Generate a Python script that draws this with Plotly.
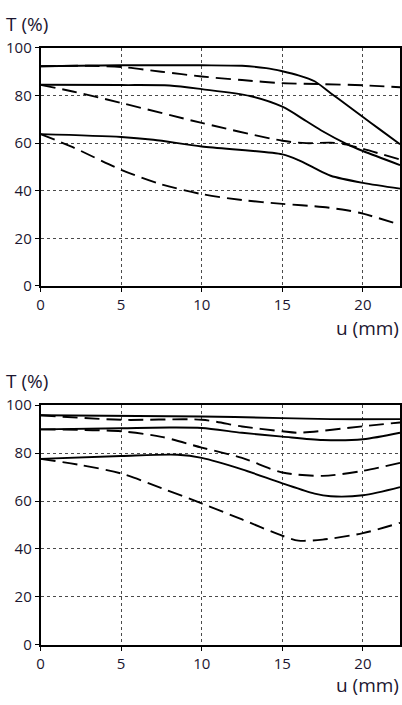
import plotly.graph_objects as go

# ---- data (top panel) ----
top_s1_x = [0, 5, 10, 12.5, 14, 15, 16, 17, 18, 19, 20, 21, 22.3]
top_s1_y = [92.3, 92.7, 92.7, 92.5, 91.5, 90.2, 88.5, 86, 81, 76, 71, 66, 59.5]
top_d1_x = [0, 3, 5, 7.5, 10, 12.5, 15, 17.5, 20, 22.3]
top_d1_y = [92.3, 92.5, 92, 90, 88, 86.5, 85.2, 84.8, 84.3, 83.5]
top_s2_x = [0, 5, 8, 10, 13, 15, 16.5, 17.5, 19, 20, 22.3]
top_s2_y = [84.5, 84.4, 84.2, 82.7, 79.8, 75.3, 69.2, 65, 59.6, 56.7, 50.8]
top_d2_x = [0, 2, 5, 10, 15, 16.5, 18, 19, 20, 22.3]
top_d2_y = [84.5, 81.7, 76.9, 68.5, 61, 60, 60.2, 59.4, 57.6, 53.1]
top_s3_x = [0, 5, 7, 10, 15, 16, 17, 18, 20, 22.3]
top_s3_y = [63.8, 62.6, 61.4, 58.6, 55.3, 52.9, 49.5, 46.3, 43.3, 40.9]
top_d3_x = [0, 2, 5, 7.5, 10, 12.5, 15, 17.5, 19, 20, 22.3]
top_d3_y = [63.8, 58.3, 48.8, 42.7, 38.6, 36.1, 34.5, 33.2, 31.8, 30.4, 25.7]

# ---- data (bottom panel) ----
bot_s1_x = [0, 10, 15, 18, 22.3]
bot_s1_y = [95.8, 95.3, 94.6, 94.2, 94.2]
bot_d1_x = [0, 5, 10, 12.5, 15, 16, 20, 22.3]
bot_d1_y = [95.8, 93.9, 93.9, 91.1, 89.1, 88.5, 91.2, 92.8]
bot_s2_x = [0, 5, 8, 10, 12.5, 15, 17.5, 20, 22.3]
bot_s2_y = [89.9, 90.4, 90.7, 90.5, 88.5, 86.9, 85.5, 85.8, 88.5]
bot_d2_x = [0, 5, 7.5, 10, 12.5, 15, 17.5, 20, 22.3]
bot_d2_y = [89.9, 89.1, 86.8, 82.3, 78, 71.9, 70.5, 72.6, 75.9]
bot_s3_x = [0, 5, 8.5, 10, 12.5, 15, 17, 18, 20, 22.3]
bot_s3_y = [77.6, 78.8, 79.3, 78, 73.2, 67.4, 63.1, 62, 62.4, 65.8]
bot_d3_x = [0, 2.5, 5, 7.5, 10, 12.5, 15, 16, 17.5, 20, 22.3]
bot_d3_y = [77.6, 75, 71.5, 65.4, 59, 52.3, 45.5, 43.5, 43.9, 46.6, 50.9]

x_ticks = [0, 5, 10, 15, 20]
y_ticks = [0, 20, 40, 60, 80, 100]

W, H = 402, 705
FONT = "Open Sans"
TXT = "#1c1630"

fig = go.Figure()

def add(x, y, dashed, ax):
    fig.add_trace(go.Scatter(
        x=x, y=y, mode="lines", xaxis="x" if ax == 1 else "x2",
        yaxis="y" if ax == 1 else "y2",
        line=dict(color="black", width=1.9, shape="spline", smoothing=0.8,
                  dash="15px,7px" if dashed else "solid"),
        showlegend=False, hoverinfo="skip"))

for xs, ys, d in [(top_s1_x, top_s1_y, False), (top_d1_x, top_d1_y, True),
                  (top_s2_x, top_s2_y, False), (top_d2_x, top_d2_y, True),
                  (top_s3_x, top_s3_y, False), (top_d3_x, top_d3_y, True)]:
    add(xs, ys, d, 1)
for xs, ys, d in [(bot_s1_x, bot_s1_y, False), (bot_d1_x, bot_d1_y, True),
                  (bot_s2_x, bot_s2_y, False), (bot_d2_x, bot_d2_y, True),
                  (bot_s3_x, bot_s3_y, False), (bot_d3_x, bot_d3_y, True)]:
    add(xs, ys, d, 2)

xdom = [37 / W, 401 / W]
y1dom = [1 - 283 / H, 1 - 38 / H]
y2dom = [1 - 652.3 / H, 1 - 405.7 / H]

xcommon = dict(range=[0, 22.3], tickvals=x_ticks, showgrid=True,
               gridcolor="#4a4a4a", griddash="3px,3px", gridwidth=1,
               showline=True, linecolor="black", linewidth=1.6, mirror=True,
               ticks="outside", ticklen=4, tickcolor="black", zeroline=False,
               tickfont=dict(family=FONT, size=15, color=TXT), domain=xdom)
ycommon = dict(range=[0, 100], tickvals=y_ticks, showgrid=True,
               gridcolor="#4a4a4a", griddash="3px,3px", gridwidth=1,
               showline=True, linecolor="black", linewidth=1.6, mirror=True,
               ticks="outside", ticklen=4, tickcolor="black", zeroline=False,
               tickfont=dict(family=FONT, size=15, color=TXT))

fig.update_layout(
    width=W, height=H, margin=dict(l=0, r=0, t=0, b=0),
    paper_bgcolor="white", plot_bgcolor="white",
    xaxis=dict(**xcommon, anchor="y"),
    yaxis=dict(**ycommon, domain=y1dom, anchor="x"),
    xaxis2=dict(**xcommon, anchor="y2"),
    yaxis2=dict(**ycommon, domain=y2dom, anchor="x2"),
    annotations=[
        dict(text="T (%)", x=0, y=1 - 13 / H, xref="paper", yref="paper",
             xanchor="left", yanchor="middle", showarrow=False,
             font=dict(family=FONT, size=19, color=TXT)),
        dict(text="u (mm)", x=1, y=1 - 326 / H, xref="paper", yref="paper",
             xanchor="right", yanchor="middle", showarrow=False,
             font=dict(family=FONT, size=19, color=TXT)),
        dict(text="T (%)", x=0, y=1 - 381 / H, xref="paper", yref="paper",
             xanchor="left", yanchor="middle", showarrow=False,
             font=dict(family=FONT, size=19, color=TXT)),
        dict(text="u (mm)", x=1, y=1 - 694 / H, xref="paper", yref="paper",
             xanchor="right", yanchor="middle", showarrow=False,
             font=dict(family=FONT, size=19, color=TXT)),
    ],
)

fig.write_html("out.html", config={"displayModeBar": False},
               post_script="document.body.style.margin='0';"
                           "document.body.style.overflow='hidden';")
